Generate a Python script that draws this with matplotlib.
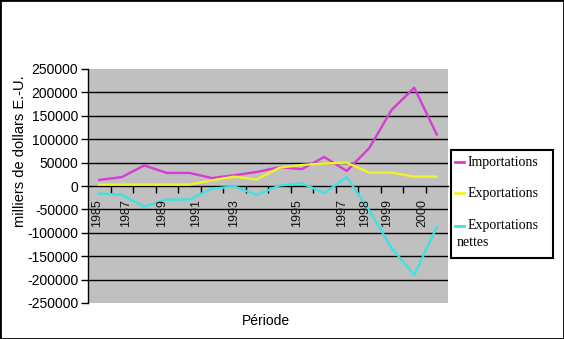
import numpy as np
import matplotlib
matplotlib.use("Agg")
import matplotlib.pyplot as plt
from matplotlib.lines import Line2D
from matplotlib.patches import Rectangle

# Annual series, thousands of US dollars, 1985-2000
years = list(range(1985, 2001))
importations = [13000, 19000, 44000, 28000, 28000, 17000, 23000, 30000,
                40000, 36000, 62000, 32000, 81000, 163000, 210000, 110000]
exportations = [3000, 3000, 3000, 3000, 3000, 12000, 20000, 14000,
                39000, 45000, 48000, 50000, 28500, 28500, 20000, 20000]
exportations_nettes = [-16000, -19000, -44000, -29000, -29000, -6000, -1000, -19000,
                       1000, 6000, -15000, 19000, -52000, -133000, -190000, -88000]

series_names = ["Importations", "Exportations", "Exportations nettes"]
series_colors = ["#D63CD6", "#F2F22A", "#3EE2E2"]

# Category labels printed under the axis and where they sit (category units)
x_labels = ["1985", "1987", "1989", "1991", "1993", "1995", "1997", "1998", "1999", "2000"]
x_label_pos = [-0.1, 1.2, 2.8, 4.3, 6.0, 8.8, 10.8, 11.8, 12.8, 14.35]

y_ticks = list(range(-250000, 250001, 50000))

W, H = 564, 339
fig = plt.figure(figsize=(W / 100, H / 100), dpi=100)
fig.patch.set_facecolor("white")


def fx(px):
    return px / W


def fy(py):
    return 1 - py / H


ax = fig.add_axes([fx(88), fy(303), (448 - 88) / W, (303 - 69) / H])
ax.set_facecolor("#C0C0C0")

x = np.arange(len(years))
ax.set_xlim(-0.5, len(years) - 0.5)
ax.set_ylim(y_ticks[0], y_ticks[-1])

# horizontal gridlines (inner ones only)
for t in y_ticks:
    if abs(t) < 250000 and t != 0:
        ax.axhline(t, color="black", lw=1.0, zorder=1)

for vals, col in zip([importations, exportations, exportations_nettes], series_colors):
    ax.plot(x, vals, color=col, lw=1.7, zorder=3, solid_joinstyle="round")

# axes styling
for s in ["top", "right"]:
    ax.spines[s].set_visible(False)
ax.spines["left"].set_color("black")
ax.spines["left"].set_linewidth(1.0)
ax.spines["bottom"].set_position(("data", 0))
ax.spines["bottom"].set_color("black")
ax.spines["bottom"].set_linewidth(1.0)

ax.set_yticks(y_ticks)
ax.set_yticklabels([str(t) for t in y_ticks], fontfamily="Liberation Sans", fontsize=10)
ax.tick_params(axis="y", direction="out", length=5, width=1, pad=2, color="black")

ax.set_xticks(np.arange(0.5, len(years) - 1, 1.0))
ax.set_xticklabels([])
ax.tick_params(axis="x", direction="out", length=5, width=1, color="black")

xt = ax.get_xaxis_transform()
for lab, pos in zip(x_labels, x_label_pos):
    ax.text(pos, (303 - 199) / (303 - 69), lab, transform=xt, rotation=90,
            ha="center", va="top", fontsize=9, fontfamily="Liberation Sans",
            color="#111111", zorder=4)

# axis titles
fig.text(fx(20), fy(151), "milliers de dollars E.-U.", rotation=90, ha="center",
         va="center", fontsize=10.5, fontfamily="Liberation Sans")
fig.text(fx(266), fy(321), "Période", ha="center", va="center", fontsize=10,
         fontfamily="Liberation Sans")

# legend box
fig.patches.append(Rectangle((fx(451), fy(258)), (553 - 451) / W, (258 - 150) / H,
                             transform=fig.transFigure, facecolor="white",
                             edgecolor="black", lw=1.5, zorder=5))
legend_rows = [162, 193, 226]
for name, col, ry in zip(series_names, series_colors, legend_rows):
    fig.lines.append(Line2D([fx(455), fx(464)], [fy(ry), fy(ry)], color=col, lw=2,
                            transform=fig.transFigure, zorder=6))
    words = name.split(" ")
    fig.text(fx(468), fy(ry), words[0], ha="left", va="center", fontsize=10,
             fontfamily="Liberation Serif", zorder=6)
    if len(words) > 1:
        fig.text(fx(457), fy(ry + 16), " ".join(words[1:]), ha="left", va="center",
                 fontsize=10, fontfamily="Liberation Serif", zorder=6)

# outer frame
fig.patches.append(Rectangle((0, 0), 1, 1, transform=fig.transFigure, fill=False,
                             edgecolor="black", lw=2, zorder=10))

fig.savefig("out.png", dpi=100)
